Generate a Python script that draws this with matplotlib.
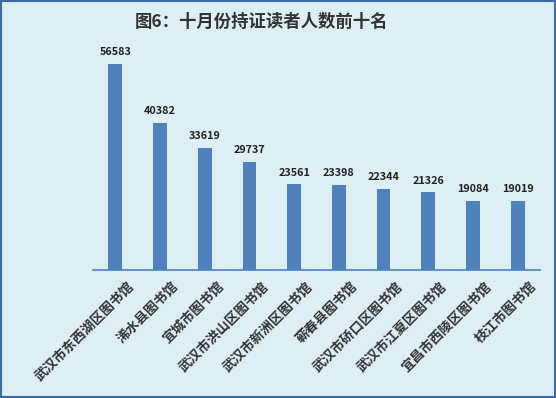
import numpy as np
import matplotlib.pyplot as plt
import matplotlib.transforms as mtransforms
from matplotlib.patches import Rectangle

plt.rcParams['font.family'] = ['Noto Sans CJK SC', 'DejaVu Sans']

libraries = ["武汉市东西湖区图书馆", "浠水县图书馆", "宜城市图书馆", "武汉市洪山区图书馆",
             "武汉市新洲区图书馆", "蕲春县图书馆", "武汉市硚口区图书馆", "武汉市江夏区图书馆",
             "宜昌市西陵区图书馆", "枝江市图书馆"]
readers = [56583, 40382, 33619, 29737, 23561, 23398, 22344, 21326, 19084, 19019]

bg = "#DDEEF5"
bar_color = "#4F81BD"

fig = plt.figure(figsize=(5.56, 3.98), dpi=100, facecolor=bg)
fig.patches.append(Rectangle((0.002, 0.003), 0.996, 0.994, transform=fig.transFigure,
                             fill=False, edgecolor="#3A6BA5", linewidth=1.5))
ax = fig.add_axes([0.1673, 0.3216, 0.8039, 0.5488])
ax.set_facecolor(bg)

x = np.arange(len(libraries))
ax.bar(x, readers, width=0.31, color=bar_color)
for xi, v in zip(x, readers):
    ax.text(xi, v + 1800, str(v), ha="center", va="bottom", fontsize=7.8,
            fontweight="bold", color="#222222")

ax.set_xlim(-0.5, 9.5)
ax.set_ylim(0, 60000)
ax.set_yticks([])
ax.set_xticks(x)
ax.set_xticklabels(libraries, rotation=45, ha="right", rotation_mode="anchor",
                   fontsize=9.6, fontweight="bold", color="#333333")
ax.tick_params(axis="x", length=0, pad=7)
shift = mtransforms.ScaledTranslation(12 / 100, 0, fig.dpi_scale_trans)
for lab in ax.get_xticklabels():
    lab.set_transform(lab.get_transform() + shift)
for s in ["top", "right", "left"]:
    ax.spines[s].set_visible(False)
ax.spines["bottom"].set_color(bar_color)
ax.spines["bottom"].set_linewidth(1.2)

fig.text(261 / 556, 1 - 22 / 398, "图6：十月份持证读者人数前十名", ha="center", va="center",
         fontsize=12.5, fontweight="bold", color="#333333")

fig.savefig("out.png", dpi=100, facecolor=bg)
